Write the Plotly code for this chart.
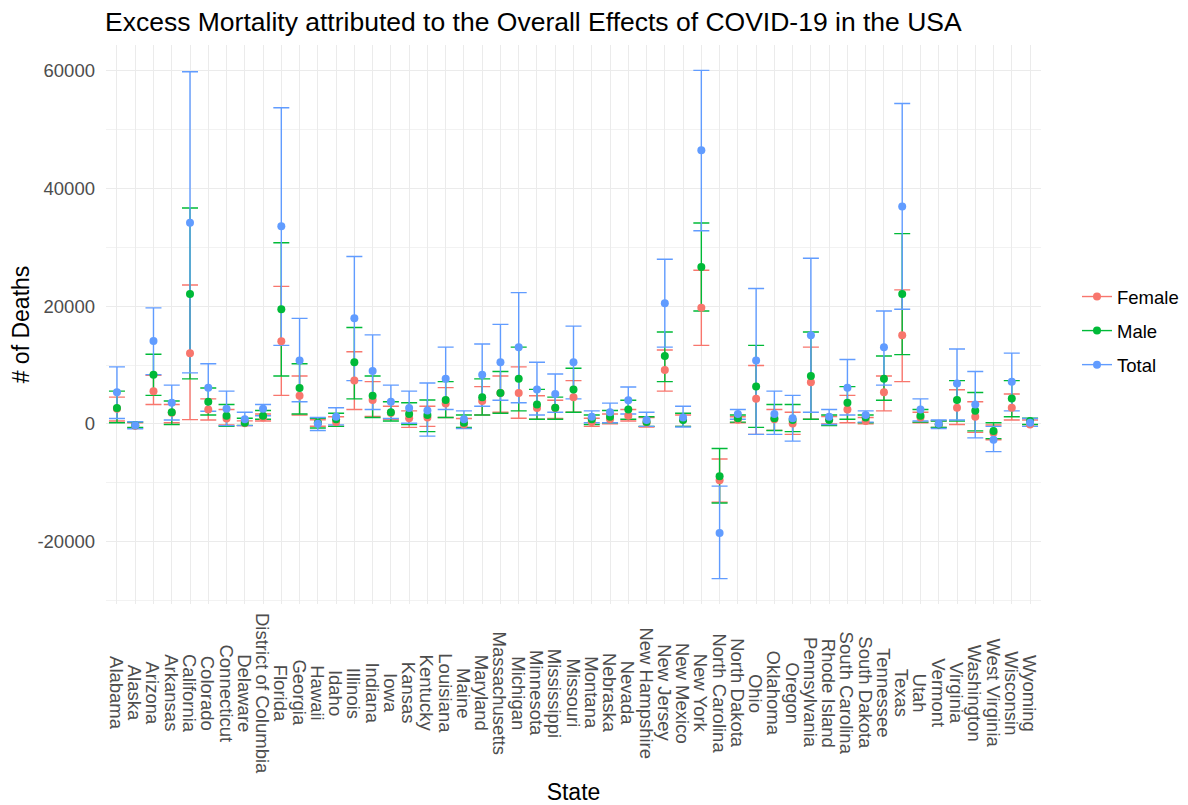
import plotly.graph_objects as go

states = ["Alabama","Alaska","Arizona","Arkansas","California","Colorado","Connecticut","Delaware",
          "District of Columbia","Florida","Georgia","Hawaii","Idaho","Illinois","Indiana","Iowa","Kansas",
          "Kentucky","Louisiana","Maine","Maryland","Massachusetts","Michigan","Minnesota","Mississippi",
          "Missouri","Montana","Nebraska","Nevada","New Hampshire","New Jersey","New Mexico","New York",
          "North Carolina","North Dakota","Ohio","Oklahoma","Oregon","Pennsylvania","Rhode Island",
          "South Carolina","South Dakota","Tennessee","Texas","Utah","Vermont","Virginia","Washington",
          "West Virginia","Wisconsin","Wyoming"]

female = [2570,-300,5560,1900,12020,2450,900,100,1080,14050,4780,200,300,7360,4070,1850,960,1080,3470,-120,
          3890,5260,5260,2690,2690,4540,300,780,1375,180,9150,700,19730,-9570,700,4250,780,60,7060,780,
          2450,480,5380,15070,1080,-50,2750,1200,-1500,2750,-120]
female_lo = [480,-700,3290,180,720,660,-200,-300,480,4840,1500,-400,-400,2450,1250,780,-600,-420,1080,-720,
             1500,1970,960,780,900,1970,-420,0,480,-540,5560,-420,13340,-13300,200,-1790,-1100,-1790,780,0,
             180,0,2210,7180,180,-600,-120,-1440,-2700,660,-420]
female_hi = [4540,200,8250,3290,23620,4250,2450,500,1670,23380,8130,700,1200,12260,7180,3000,2210,3000,6160,900,
             6340,8130,9690,4780,4010,7360,960,1670,2450,1080,12560,1500,26130,-5980,1200,9930,2450,1970,13040,1250,
             4840,1080,8130,22780,1970,500,5800,3770,-200,5080,660]

male = [2690,-250,8370,1970,22070,3770,1375,180,1375,19500,6100,180,780,10470,4780,1970,1670,1500,4070,180,
        4540,5260,7650,3290,2750,5860,780,1200,2450,300,11540,660,26670,-8910,960,6340,960,660,8130,660,
        3590,1080,7650,22070,1375,-120,4070,2210,-1200,4310,480]
male_lo = [180,-600,4840,-120,7650,1500,-420,-250,780,8130,1670,-700,-420,4250,1080,480,-120,-1320,1080,-600,
           1500,1800,2210,780,780,1970,-120,180,780,-420,7180,-420,19200,-13460,300,-600,-1140,-1320,780,-300,
           780,180,4010,11780,300,-600,480,-1200,-2510,1200,-120]
male_hi = [5560,300,11840,3890,36700,6100,3290,960,2270,30800,10230,960,1800,16390,8130,3770,3590,4070,7180,1500,
           7650,8910,13040,5860,4540,9450,1500,2270,4010,1200,15610,1800,34150,-4190,1500,13340,3290,3290,15610,1500,
           6340,1500,11540,32350,2450,480,7360,5320,180,7360,960]

total = [5380,-240,14110,3590,34200,6160,2570,780,2570,33600,10760,0,1200,17940,8970,3770,2690,2270,7650,780,
         8370,10470,13040,5860,5080,10470,1200,1970,4010,660,20510,1080,46520,-18540,1670,10760,1670,960,15070,1200,
         6160,1500,13040,36960,2450,0,6880,3290,-2690,7180,180]
total_lo = [900,-840,8370,660,8670,2150,-300,-300,1375,13340,3770,-1140,-180,7360,2450,900,100,-2090,2450,-780,
            3000,4010,3590,1500,1970,4250,180,180,1670,-420,13040,-540,32830,-26310,780,-1790,-1790,-2930,1970,-120,
            1500,300,6580,19500,480,-780,660,-2390,-4720,2210,-420]
total_hi = [9690,360,19730,6580,59860,10230,5560,1970,3290,53760,17940,1080,2750,28460,15130,6580,5560,6940,13040,2210,
            13570,16920,22310,10470,8490,16620,2210,3530,6280,1970,27990,3000,60100,-10580,2450,23020,5560,4840,28170,2450,
            10940,2210,19200,54480,4250,660,12740,8910,-420,12020,900]

y_ticks = [-20000, 0, 20000, 40000, 60000]
y_tick_labels = ["-20000", "0", "20000", "40000", "60000"]

series = [("Female", female, female_lo, female_hi, "#F8766D"),
          ("Male", male, male_lo, male_hi, "#00BA38"),
          ("Total", total, total_lo, total_hi, "#619CFF")]

FONT = "Liberation Sans, Arial, sans-serif"
W, H = 1180, 797          # page has an 8px body margin
PL, PR, PT, PB = 98, 1033, 37, 596   # plot area in figure pixels
PW, PH = PR - PL, PB - PT

fig = go.Figure()

# error bars first
for name, v, lo, hi, col in series:
    fig.add_trace(go.Scatter(
        x=states, y=v, mode="markers", marker=dict(size=1, opacity=0),
        error_y=dict(type="data", symmetric=False,
                     array=[h - a for h, a in zip(hi, v)],
                     arrayminus=[a - l for a, l in zip(v, lo)],
                     color=col, thickness=1.4, width=8),
        showlegend=False, hoverinfo="skip"))

# points on top
for name, v, lo, hi, col in series:
    fig.add_trace(go.Scatter(x=states, y=v, mode="markers",
                             marker=dict(size=8, color=col), name=name, showlegend=False))

# legend entries
for name, v, lo, hi, col in series:
    fig.add_trace(go.Scatter(x=[None], y=[None], mode="lines+markers", name=name,
                             line=dict(color=col, width=1.4), marker=dict(size=8, color=col),
                             legendgroup=name))

# centered rotated category labels
for s in states:
    fig.add_annotation(x=s, xref="x", y=(PB - 685) / PH, yref="paper", text=s, textangle=90,
                       showarrow=False, xanchor="center", yanchor="middle",
                       font=dict(family=FONT, size=18.5, color="#4D4D4D"))

fig.update_layout(
    width=W, height=H,
    paper_bgcolor="white", plot_bgcolor="white",
    margin=dict(l=PL, r=W - PR, t=PT, b=H - PB, autoexpand=False),
    font=dict(family=FONT, size=18.5, color="#4D4D4D"),
    title=dict(text="Excess Mortality attributed to the Overall Effects of COVID-19 in the USA",
               x=97 / W, xanchor="left", y=1 - 14 / H, yanchor="middle",
               font=dict(family=FONT, size=26.5, color="black")),
    legend=dict(x=(1069 - PL) / PW, y=(PB - 323) / PH, xanchor="left", yanchor="middle",
                tracegroupgap=7,
                font=dict(family=FONT, size=18.5, color="black"), bgcolor="rgba(0,0,0,0)"),
    showlegend=True,
)

fig.update_xaxes(type="category", categoryorder="array", categoryarray=states,
                 range=[-0.6, 50.6], showgrid=True, gridcolor="#EBEBEB", gridwidth=1.2,
                 showticklabels=False, zeroline=False, showline=False, ticks="", automargin=False,
                 title=dict(text="State", standoff=179, font=dict(family=FONT, size=23, color="black")))
fig.update_yaxes(range=[-30630, 64420], tickvals=y_ticks, ticktext=y_tick_labels,
                 showgrid=True, gridcolor="#EBEBEB",
                 gridwidth=1.2, zeroline=False, showline=False, ticks="", ticklabelstandoff=10,
                 automargin=False,
                 minor=dict(dtick=10000, tick0=0, showgrid=True, gridcolor="#F2F2F2", gridwidth=0.8),
                 tickfont=dict(family=FONT, size=18.5, color="#4D4D4D"),
                 title=dict(text="# of Deaths", standoff=4, font=dict(family=FONT, size=23, color="black")))

fig.write_html("out.html")
